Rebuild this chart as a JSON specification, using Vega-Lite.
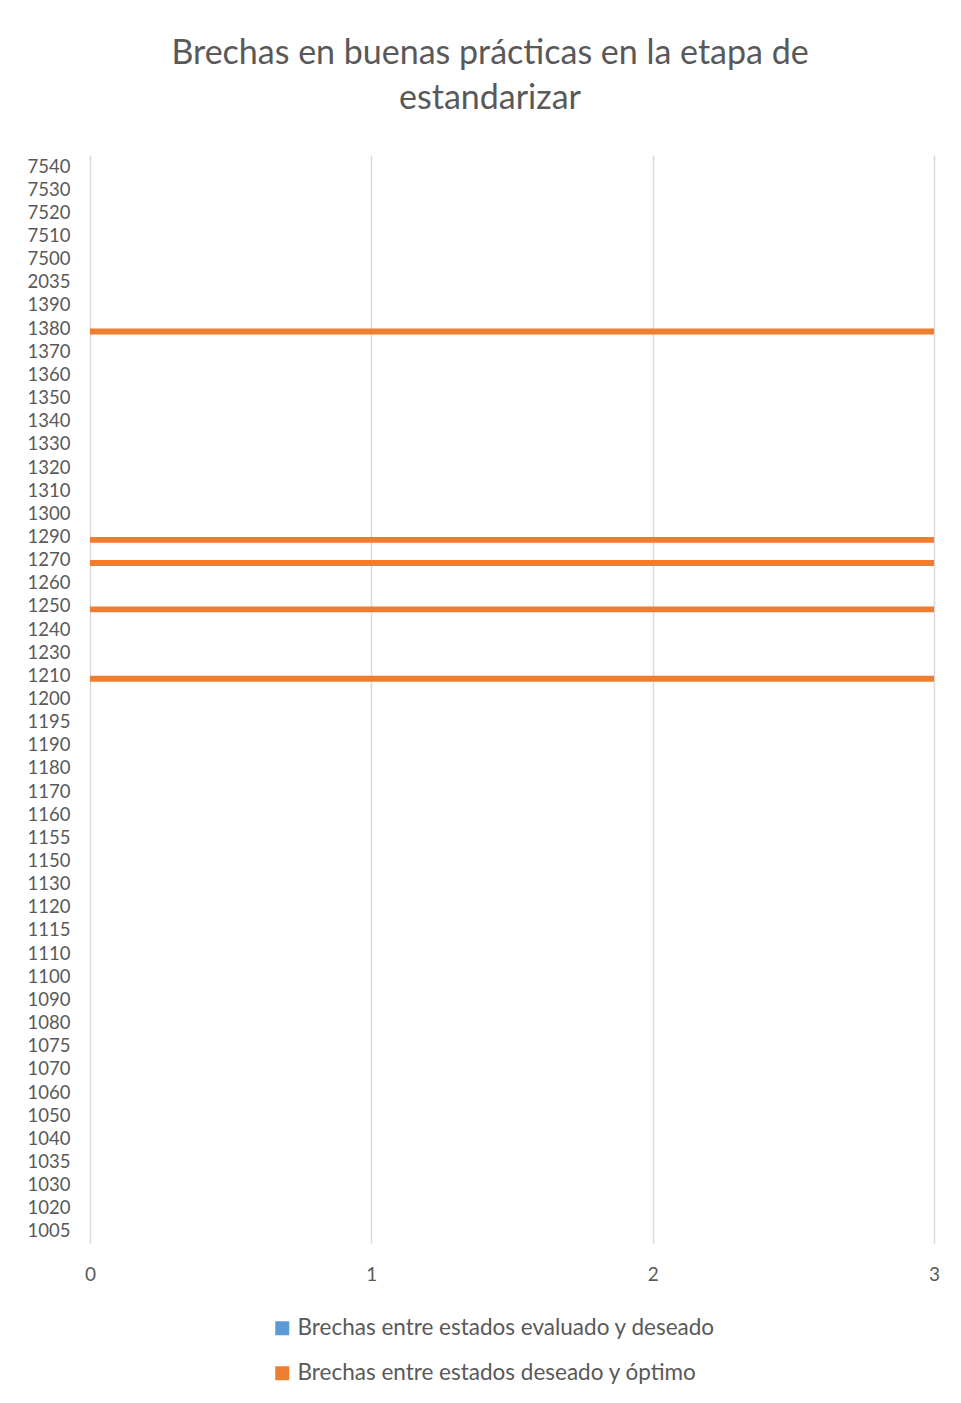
{
  "$schema": "https://vega.github.io/schema/vega-lite/v6.json",
  "width": 844,
  "height": 1088,
  "autosize": "none",
  "padding": {"left": 90, "top": 155, "right": 27, "bottom": 160},
  "background": "white",
  "title": {
    "text": ["Brechas en buenas prácticas en la etapa de", "estandarizar"],
    "font": "Lato",
    "fontSize": 34,
    "fontWeight": "normal",
    "color": "#595959",
    "anchor": "middle",
    "frame": "group",
    "dx": -22,
    "offset": 39,
    "lineHeight": 45
  },
  "data": {
    "values": [
      {"cat": "7540", "series": "Brechas entre estados evaluado y deseado", "value": 0},
      {"cat": "7540", "series": "Brechas entre estados deseado y óptimo", "value": 0},
      {"cat": "7530", "series": "Brechas entre estados evaluado y deseado", "value": 0},
      {"cat": "7530", "series": "Brechas entre estados deseado y óptimo", "value": 0},
      {"cat": "7520", "series": "Brechas entre estados evaluado y deseado", "value": 0},
      {"cat": "7520", "series": "Brechas entre estados deseado y óptimo", "value": 0},
      {"cat": "7510", "series": "Brechas entre estados evaluado y deseado", "value": 0},
      {"cat": "7510", "series": "Brechas entre estados deseado y óptimo", "value": 0},
      {"cat": "7500", "series": "Brechas entre estados evaluado y deseado", "value": 0},
      {"cat": "7500", "series": "Brechas entre estados deseado y óptimo", "value": 0},
      {"cat": "2035", "series": "Brechas entre estados evaluado y deseado", "value": 0},
      {"cat": "2035", "series": "Brechas entre estados deseado y óptimo", "value": 0},
      {"cat": "1390", "series": "Brechas entre estados evaluado y deseado", "value": 0},
      {"cat": "1390", "series": "Brechas entre estados deseado y óptimo", "value": 0},
      {"cat": "1380", "series": "Brechas entre estados evaluado y deseado", "value": 0},
      {"cat": "1380", "series": "Brechas entre estados deseado y óptimo", "value": 3},
      {"cat": "1370", "series": "Brechas entre estados evaluado y deseado", "value": 0},
      {"cat": "1370", "series": "Brechas entre estados deseado y óptimo", "value": 0},
      {"cat": "1360", "series": "Brechas entre estados evaluado y deseado", "value": 0},
      {"cat": "1360", "series": "Brechas entre estados deseado y óptimo", "value": 0},
      {"cat": "1350", "series": "Brechas entre estados evaluado y deseado", "value": 0},
      {"cat": "1350", "series": "Brechas entre estados deseado y óptimo", "value": 0},
      {"cat": "1340", "series": "Brechas entre estados evaluado y deseado", "value": 0},
      {"cat": "1340", "series": "Brechas entre estados deseado y óptimo", "value": 0},
      {"cat": "1330", "series": "Brechas entre estados evaluado y deseado", "value": 0},
      {"cat": "1330", "series": "Brechas entre estados deseado y óptimo", "value": 0},
      {"cat": "1320", "series": "Brechas entre estados evaluado y deseado", "value": 0},
      {"cat": "1320", "series": "Brechas entre estados deseado y óptimo", "value": 0},
      {"cat": "1310", "series": "Brechas entre estados evaluado y deseado", "value": 0},
      {"cat": "1310", "series": "Brechas entre estados deseado y óptimo", "value": 0},
      {"cat": "1300", "series": "Brechas entre estados evaluado y deseado", "value": 0},
      {"cat": "1300", "series": "Brechas entre estados deseado y óptimo", "value": 0},
      {"cat": "1290", "series": "Brechas entre estados evaluado y deseado", "value": 0},
      {"cat": "1290", "series": "Brechas entre estados deseado y óptimo", "value": 3},
      {"cat": "1270", "series": "Brechas entre estados evaluado y deseado", "value": 0},
      {"cat": "1270", "series": "Brechas entre estados deseado y óptimo", "value": 3},
      {"cat": "1260", "series": "Brechas entre estados evaluado y deseado", "value": 0},
      {"cat": "1260", "series": "Brechas entre estados deseado y óptimo", "value": 0},
      {"cat": "1250", "series": "Brechas entre estados evaluado y deseado", "value": 0},
      {"cat": "1250", "series": "Brechas entre estados deseado y óptimo", "value": 3},
      {"cat": "1240", "series": "Brechas entre estados evaluado y deseado", "value": 0},
      {"cat": "1240", "series": "Brechas entre estados deseado y óptimo", "value": 0},
      {"cat": "1230", "series": "Brechas entre estados evaluado y deseado", "value": 0},
      {"cat": "1230", "series": "Brechas entre estados deseado y óptimo", "value": 0},
      {"cat": "1210", "series": "Brechas entre estados evaluado y deseado", "value": 0},
      {"cat": "1210", "series": "Brechas entre estados deseado y óptimo", "value": 3},
      {"cat": "1200", "series": "Brechas entre estados evaluado y deseado", "value": 0},
      {"cat": "1200", "series": "Brechas entre estados deseado y óptimo", "value": 0},
      {"cat": "1195", "series": "Brechas entre estados evaluado y deseado", "value": 0},
      {"cat": "1195", "series": "Brechas entre estados deseado y óptimo", "value": 0},
      {"cat": "1190", "series": "Brechas entre estados evaluado y deseado", "value": 0},
      {"cat": "1190", "series": "Brechas entre estados deseado y óptimo", "value": 0},
      {"cat": "1180", "series": "Brechas entre estados evaluado y deseado", "value": 0},
      {"cat": "1180", "series": "Brechas entre estados deseado y óptimo", "value": 0},
      {"cat": "1170", "series": "Brechas entre estados evaluado y deseado", "value": 0},
      {"cat": "1170", "series": "Brechas entre estados deseado y óptimo", "value": 0},
      {"cat": "1160", "series": "Brechas entre estados evaluado y deseado", "value": 0},
      {"cat": "1160", "series": "Brechas entre estados deseado y óptimo", "value": 0},
      {"cat": "1155", "series": "Brechas entre estados evaluado y deseado", "value": 0},
      {"cat": "1155", "series": "Brechas entre estados deseado y óptimo", "value": 0},
      {"cat": "1150", "series": "Brechas entre estados evaluado y deseado", "value": 0},
      {"cat": "1150", "series": "Brechas entre estados deseado y óptimo", "value": 0},
      {"cat": "1130", "series": "Brechas entre estados evaluado y deseado", "value": 0},
      {"cat": "1130", "series": "Brechas entre estados deseado y óptimo", "value": 0},
      {"cat": "1120", "series": "Brechas entre estados evaluado y deseado", "value": 0},
      {"cat": "1120", "series": "Brechas entre estados deseado y óptimo", "value": 0},
      {"cat": "1115", "series": "Brechas entre estados evaluado y deseado", "value": 0},
      {"cat": "1115", "series": "Brechas entre estados deseado y óptimo", "value": 0},
      {"cat": "1110", "series": "Brechas entre estados evaluado y deseado", "value": 0},
      {"cat": "1110", "series": "Brechas entre estados deseado y óptimo", "value": 0},
      {"cat": "1100", "series": "Brechas entre estados evaluado y deseado", "value": 0},
      {"cat": "1100", "series": "Brechas entre estados deseado y óptimo", "value": 0},
      {"cat": "1090", "series": "Brechas entre estados evaluado y deseado", "value": 0},
      {"cat": "1090", "series": "Brechas entre estados deseado y óptimo", "value": 0},
      {"cat": "1080", "series": "Brechas entre estados evaluado y deseado", "value": 0},
      {"cat": "1080", "series": "Brechas entre estados deseado y óptimo", "value": 0},
      {"cat": "1075", "series": "Brechas entre estados evaluado y deseado", "value": 0},
      {"cat": "1075", "series": "Brechas entre estados deseado y óptimo", "value": 0},
      {"cat": "1070", "series": "Brechas entre estados evaluado y deseado", "value": 0},
      {"cat": "1070", "series": "Brechas entre estados deseado y óptimo", "value": 0},
      {"cat": "1060", "series": "Brechas entre estados evaluado y deseado", "value": 0},
      {"cat": "1060", "series": "Brechas entre estados deseado y óptimo", "value": 0},
      {"cat": "1050", "series": "Brechas entre estados evaluado y deseado", "value": 0},
      {"cat": "1050", "series": "Brechas entre estados deseado y óptimo", "value": 0},
      {"cat": "1040", "series": "Brechas entre estados evaluado y deseado", "value": 0},
      {"cat": "1040", "series": "Brechas entre estados deseado y óptimo", "value": 0},
      {"cat": "1035", "series": "Brechas entre estados evaluado y deseado", "value": 0},
      {"cat": "1035", "series": "Brechas entre estados deseado y óptimo", "value": 0},
      {"cat": "1030", "series": "Brechas entre estados evaluado y deseado", "value": 0},
      {"cat": "1030", "series": "Brechas entre estados deseado y óptimo", "value": 0},
      {"cat": "1020", "series": "Brechas entre estados evaluado y deseado", "value": 0},
      {"cat": "1020", "series": "Brechas entre estados deseado y óptimo", "value": 0},
      {"cat": "1005", "series": "Brechas entre estados evaluado y deseado", "value": 0},
      {"cat": "1005", "series": "Brechas entre estados deseado y óptimo", "value": 0}
    ]
  },
  "mark": {"type": "bar", "clip": true},
  "encoding": {
    "y": {
      "field": "cat",
      "type": "nominal",
      "sort": null,
      "scale": {"paddingInner": 0, "paddingOuter": 0},
      "axis": {
        "title": null,
        "domain": false,
        "ticks": false,
        "grid": false,
        "labelFont": "Lato",
        "labelFontSize": 18.5,
        "labelColor": "#595959",
        "labelPadding": 20
      }
    },
    "yOffset": {
      "field": "series",
      "type": "nominal",
      "sort": null,
      "scale": {"paddingInner": 0, "paddingOuter": 1.1}
    },
    "x": {
      "field": "value",
      "type": "quantitative",
      "scale": {"domain": [0, 3], "nice": false},
      "axis": {
        "title": null,
        "values": [0, 1, 2, 3],
        "format": "d",
        "domain": false,
        "ticks": false,
        "grid": true,
        "gridColor": "#D9D9D9",
        "gridWidth": 1.5,
        "labelFlush": false,
        "labelFont": "Lato",
        "labelFontSize": 19,
        "labelColor": "#595959",
        "labelPadding": 22
      }
    },
    "color": {
      "field": "series",
      "type": "nominal",
      "sort": null,
      "scale": {
        "domain": ["Brechas entre estados evaluado y deseado", "Brechas entre estados deseado y óptimo"],
        "range": ["#5B9BD5", "#ED7D31"]
      },
      "legend": {
        "title": null,
        "orient": "none",
        "legendX": 181,
        "legendY": 1162,
        "direction": "vertical",
        "symbolType": "square",
        "symbolSize": 196,
        "symbolStrokeWidth": 0,
        "symbolOpacity": 1,
        "labelFont": "Lato",
        "labelFontSize": 22.5,
        "labelColor": "#595959",
        "labelLimit": 700,
        "labelOffset": 4,
        "rowPadding": 22
      }
    }
  },
  "config": {
    "view": {"stroke": null}
  }
}
